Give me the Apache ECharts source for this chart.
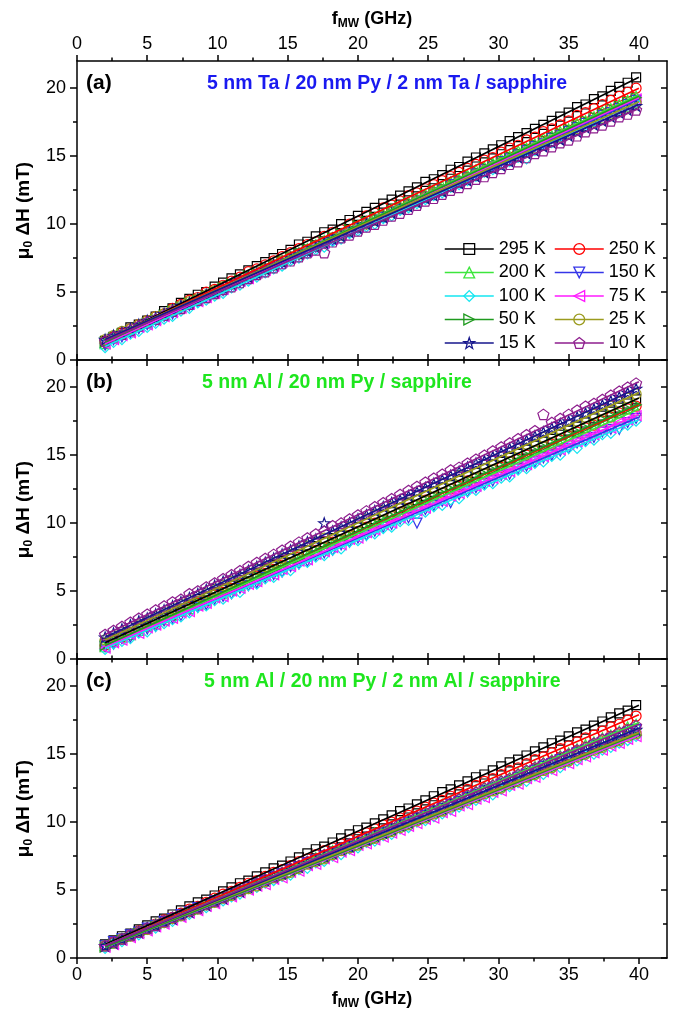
<!DOCTYPE html>
<html>
<head>
<meta charset="utf-8">
<script src="https://cdn.jsdelivr.net/npm/echarts@6/dist/echarts.min.js"></script>
<style>
  html, body { margin: 0; padding: 0; background: #fff; }
  #chart { width: 674px; height: 1014px; }
</style>
</head>
<body>
<div id="chart"></div>
<script>
// Microwave frequencies of the FMR linewidth sweep (GHz)
const freqGHz = [2,2.6,3.2,3.8,4.4,5,5.6,6.2,6.8,7.4,8,8.6,9.2,9.8,10.4,11,11.6,12.2,12.8,13.4,
  14,14.6,15.2,15.8,16.4,17,17.6,18.2,18.8,19.4,20,20.6,21.2,21.8,22.4,23,23.6,24.2,24.8,25.4,
  26,26.6,27.2,27.8,28.4,29,29.6,30.2,30.8,31.4,32,32.6,33.2,33.8,34.4,35,35.6,36.2,36.8,37.4,
  38,38.6,39.2,39.8];

const tempLabels = ['295 K','250 K','200 K','150 K','100 K','75 K','50 K','25 K','15 K','10 K'];

// (a) 5 nm Ta / 20 nm Py / 2 nm Ta / sapphire — linewidth mu0 dH (mT)
const a295 = [1.4,1.7,2.0,2.4,2.6,2.9,3.2,3.6,3.8,4.2,4.5,4.8,5.0,5.4,5.7,6.0,6.3,6.6,6.9,7.2,7.5,7.8,8.1,8.5,8.7,9.1,9.4,9.6,10.0,10.3,10.6,10.9,11.2,11.5,11.8,12.1,12.4,12.7,13.1,13.3,13.6,14.0,14.2,14.6,14.9,15.2,15.5,15.8,16.1,16.4,16.7,17.0,17.3,17.6,17.9,18.2,18.6,18.8,19.2,19.4,19.8,20.1,20.4,20.8];
const a250 = [1.3,1.7,2.0,2.3,2.6,2.9,3.2,3.4,3.8,4.1,4.4,4.6,5.0,5.2,5.5,5.8,6.1,6.5,6.7,7.0,7.3,7.6,7.9,8.2,8.5,8.7,9.1,9.4,9.6,10.0,10.2,10.6,10.8,11.2,11.4,11.7,12.1,12.3,12.6,12.9,13.2,13.5,13.8,14.1,14.4,14.7,14.9,15.3,15.6,15.8,16.2,16.4,16.8,17.0,17.3,17.6,18.0,18.2,18.5,18.8,19.1,19.4,19.7,20.0];
const a200 = [1.2,1.6,1.9,2.1,2.5,2.7,3.0,3.3,3.6,3.9,4.2,4.4,4.8,5.0,5.3,5.6,5.9,6.2,6.4,6.8,7.0,7.3,7.6,7.9,8.2,8.5,8.8,9.0,9.3,9.6,9.9,10.2,10.5,10.7,11.1,11.3,11.6,11.9,12.2,12.5,12.8,13.1,13.3,13.6,14.0,14.2,14.5,14.8,15.0,15.4,15.6,15.9,16.3,16.5,16.8,17.0,17.4,17.6,17.9,18.3,18.5,18.8,19.1,19.4];
const a150 = [1.1,1.5,1.7,2.0,2.3,2.6,2.9,3.2,3.4,3.8,4.0,4.3,4.6,4.9,5.1,5.5,5.7,6.0,6.3,6.6,6.9,7.1,7.5,7.7,8.0,8.3,8.6,8.8,9.2,9.4,9.7,10.0,10.3,10.5,10.9,11.1,11.4,11.7,12.0,12.3,12.5,12.9,13.1,13.4,13.7,14.0,14.2,14.6,14.8,15.1,15.4,15.7,15.9,16.3,16.5,16.8,17.1,17.4,17.6,18.0,18.2,18.5,18.8,19.1];
const a100 = [0.9,1.3,1.5,1.9,2.1,2.4,2.7,3.0,3.2,3.6,3.8,4.2,4.4,4.7,4.9,5.3,5.5,5.8,6.1,6.4,6.7,6.9,7.3,7.5,7.8,8.1,8.3,8.7,8.9,9.3,9.5,9.8,10.0,10.4,10.6,11.0,11.2,11.5,11.8,12.1,12.3,12.7,12.9,13.2,13.5,13.8,14.0,14.4,14.6,14.9,14.8,15.4,15.8,16.0,16.4,16.6,16.9,17.2,17.5,17.7,18.0,18.3,18.6,18.9];
const a75  = [1.2,1.5,1.8,2.0,2.4,2.6,2.9,3.2,3.5,3.8,4.1,4.3,4.6,4.9,5.2,5.5,5.8,6.0,6.4,6.6,6.9,7.2,7.5,7.8,8.0,8.4,8.6,8.9,9.2,9.5,9.8,10.1,10.3,10.6,10.9,11.2,11.5,11.8,12.1,12.3,12.6,12.9,13.2,13.5,13.8,14.1,14.3,14.6,14.9,15.2,15.5,15.8,16.1,16.3,16.6,16.9,17.2,17.5,17.8,18.1,18.4,18.6,18.9,19.2];
const a50  = [1.3,1.6,1.9,2.1,2.4,2.7,3.0,3.3,3.6,3.9,4.2,4.4,4.7,5.0,5.3,5.6,5.9,6.2,6.4,6.7,7.0,7.3,7.6,7.9,8.2,8.4,8.7,9.0,9.3,9.6,9.9,10.2,10.5,10.7,11.0,11.3,11.6,11.9,12.2,12.5,12.7,13.0,13.3,13.6,13.9,14.2,14.5,14.7,15.0,15.3,15.6,15.9,16.2,16.5,16.7,17.0,17.3,17.6,17.9,18.2,18.5,18.7,19.0,19.3];
const a25  = [1.5,1.8,2.1,2.3,2.6,2.9,3.2,3.4,3.7,4.0,4.3,4.5,4.8,5.1,5.4,5.6,5.9,6.2,6.5,6.7,7.0,7.3,7.6,7.8,8.1,8.4,8.7,9.0,9.2,9.5,9.8,10.0,10.3,10.6,10.9,11.2,11.4,11.7,12.0,12.3,12.5,12.8,13.1,13.4,13.6,13.9,14.2,14.5,14.7,15.0,15.3,15.6,15.8,16.1,16.4,16.7,17.0,17.2,17.5,17.8,18.1,18.3,18.6,18.9];
const a15  = [1.5,1.8,2.0,2.3,2.6,2.9,3.1,3.4,3.7,4.0,4.2,4.5,4.8,5.0,5.3,5.6,5.9,6.1,6.4,6.7,7.0,7.2,7.5,7.8,8.0,8.3,8.6,8.9,9.1,9.4,9.7,10.0,10.2,10.5,10.8,11.1,11.3,11.6,11.9,12.1,12.4,12.7,13.0,13.2,13.5,13.8,14.1,14.3,14.6,14.9,15.2,15.4,15.7,16.0,16.2,16.5,16.8,17.1,17.3,17.6,17.9,18.2,18.4,18.7];
const a10  = [1.4,1.7,1.9,2.2,2.5,2.8,3.0,3.3,3.6,3.8,4.1,4.4,4.6,4.9,5.2,5.4,5.7,6.0,6.3,6.5,6.8,7.1,7.3,7.6,7.9,8.1,7.9,8.7,9.0,9.2,9.5,9.8,10.0,10.3,10.6,10.8,11.1,11.4,11.7,11.9,12.2,12.5,12.7,13.0,13.3,13.5,13.8,14.1,14.4,14.6,14.9,15.2,15.4,15.7,16.0,16.2,16.5,16.8,17.1,17.3,17.6,17.9,18.1,18.4];

// (b) 5 nm Al / 20 nm Py / sapphire
const b295 = [1.2,1.5,1.8,2.0,2.4,2.6,2.9,3.2,3.5,3.7,4.0,4.4,4.6,4.9,5.2,5.4,5.8,6.0,6.3,6.6,6.9,7.2,7.4,7.7,8.0,8.3,8.6,8.9,9.1,9.4,9.7,10.0,10.3,10.6,10.8,11.1,11.5,11.7,12.0,12.3,12.6,12.8,13.1,13.5,13.7,14.0,14.3,14.5,14.8,15.1,15.4,15.7,16.0,16.2,16.5,16.8,17.1,17.4,17.7,17.9,18.2,18.5,18.8,19.1];
const b250 = [1.0,1.3,1.6,1.8,2.2,2.4,2.7,3.0,3.2,3.5,3.8,4.1,4.3,4.7,4.9,5.2,5.5,5.7,6.1,6.3,6.6,6.9,7.1,7.5,7.7,8.0,8.2,8.6,8.8,9.1,9.4,9.7,10.0,10.2,10.5,10.8,11.1,11.3,11.7,11.9,12.2,12.5,12.7,13.1,13.3,13.6,13.9,14.1,14.5,14.7,15.0,15.3,15.6,15.8,16.1,16.4,16.7,17.0,17.2,17.5,17.8,18.1,18.4,18.6];
const b200 = [0.9,1.3,1.6,1.8,2.1,2.4,2.6,2.9,3.2,3.5,3.7,4.0,4.3,4.6,4.8,5.1,5.4,5.7,5.9,6.2,6.5,6.8,7.0,7.4,7.6,7.8,8.1,8.5,8.7,9.0,9.2,9.5,9.8,10.1,10.3,10.6,10.9,11.2,11.4,11.7,12.0,12.3,12.5,12.8,13.1,13.4,13.6,13.9,14.2,14.5,14.7,15.0,15.3,15.6,15.8,16.1,16.4,16.7,16.9,17.2,17.5,17.8,18.0,18.3];
const b150 = [0.9,1.1,1.5,1.6,2.0,2.2,2.4,2.8,3.0,3.2,3.6,3.8,4.0,4.4,4.6,4.8,5.2,5.4,5.6,6.0,6.2,6.4,6.8,7.0,7.2,7.6,7.8,8.0,8.4,8.6,8.9,9.1,9.4,9.7,9.9,10.3,10.4,10.0,11.0,11.3,11.6,11.5,12.1,12.3,12.6,12.9,13.1,13.5,13.6,14.0,14.2,14.5,14.8,15.0,15.3,15.5,15.9,16.1,16.3,16.7,16.9,16.9,17.4,17.7];
const b100 = [0.7,1.1,1.3,1.5,1.9,2.0,2.4,2.6,2.9,3.1,3.4,3.8,3.9,4.3,4.4,4.8,4.9,5.4,5.5,5.9,6.0,6.4,6.5,7.0,7.1,7.5,7.6,8.0,8.1,8.6,8.7,9.1,9.2,9.6,9.7,10.1,10.2,10.7,10.8,11.2,11.3,11.7,11.8,12.3,12.4,12.8,12.9,13.3,13.4,13.9,14.0,14.4,14.5,14.9,15.0,15.5,15.5,16.0,16.1,16.5,16.6,17.0,17.2,17.5];
const b75  = [0.8,1.2,1.4,1.8,1.9,2.3,2.5,2.8,3.0,3.4,3.5,3.9,4.1,4.5,4.6,5.0,5.2,5.5,5.7,6.1,6.2,6.6,6.8,7.2,7.3,7.7,7.9,8.2,8.4,8.8,8.9,9.3,9.5,9.9,10.0,10.4,10.6,10.9,11.1,11.5,11.6,12.0,12.2,12.6,12.7,13.1,13.3,13.6,13.8,14.2,14.3,14.7,14.9,15.3,15.4,15.8,16.0,16.3,16.5,16.9,17.0,17.4,17.6,17.9];
const b50  = [1.0,1.3,1.6,1.8,2.1,2.4,2.7,3.0,3.2,3.5,3.8,4.1,4.4,4.6,4.9,5.2,5.5,5.8,6.1,6.3,6.6,6.9,7.2,7.4,7.8,8.0,8.3,8.6,8.9,9.1,9.4,9.7,10.0,10.3,10.5,10.8,11.1,11.4,11.7,12.0,12.2,12.5,12.8,13.1,13.4,13.6,13.9,14.2,14.5,14.8,15.0,15.3,15.6,15.9,16.2,16.5,16.7,17.0,17.3,17.6,17.9,18.1,18.4,18.7];
const b25  = [1.4,1.7,2.0,2.3,2.5,2.8,3.1,3.4,3.7,4.0,4.3,4.6,4.8,5.1,5.4,5.7,6.0,6.3,6.6,6.8,7.1,7.4,7.7,8.0,8.3,8.6,8.9,9.1,9.4,9.7,10.0,10.3,10.6,10.9,11.2,11.4,11.7,12.0,12.3,12.6,12.9,13.2,13.5,13.7,14.0,14.3,14.6,14.9,15.2,15.5,15.8,16.0,16.3,16.6,16.9,17.2,17.5,17.8,18.0,18.3,18.6,18.9,19.2,19.5];
const b15  = [1.6,1.9,2.2,2.5,2.8,3.0,3.3,3.6,3.9,4.2,4.5,4.8,5.1,5.4,5.7,6.0,6.2,6.5,6.8,7.1,7.4,7.7,8.0,8.3,8.6,8.8,10.0,9.4,9.7,10.0,10.3,10.6,10.9,11.2,11.5,11.7,12.0,12.3,12.6,12.9,13.2,13.5,13.8,14.1,14.4,14.6,14.9,15.2,15.5,15.8,16.1,16.4,16.7,17.0,17.3,17.5,17.8,18.1,18.4,18.7,19.0,19.3,19.6,19.9];
const b10  = [1.8,2.1,2.4,2.7,3.0,3.3,3.6,3.9,4.2,4.4,4.8,5.0,5.3,5.6,5.9,6.2,6.5,6.8,7.1,7.4,7.7,8.0,8.3,8.6,8.9,9.2,9.4,9.8,10.0,10.3,10.6,10.9,11.2,11.5,11.8,12.1,12.4,12.7,13.0,13.3,13.6,13.9,14.1,14.4,14.7,15.0,15.3,15.6,15.9,16.2,16.5,16.8,18.0,17.4,17.7,18.0,18.3,18.6,18.8,19.1,19.4,19.7,20.0,20.3];

// (c) 5 nm Al / 20 nm Py / 2 nm Al / sapphire
const c295 = [1.0,1.3,1.6,1.8,2.1,2.4,2.7,2.9,3.2,3.5,3.8,4.1,4.3,4.6,4.9,5.2,5.5,5.7,6.0,6.3,6.6,6.8,7.1,7.4,7.7,8.0,8.2,8.5,8.8,9.1,9.4,9.6,9.9,10.2,10.5,10.8,11.0,11.3,11.6,11.9,12.2,12.4,12.7,13.0,13.3,13.5,13.8,14.1,14.4,14.6,14.9,15.2,15.5,15.8,16.0,16.3,16.6,16.8,17.1,17.4,17.7,18.0,18.2,18.6];
const c250 = [0.9,1.2,1.4,1.7,2.0,2.2,2.5,2.8,3.0,3.3,3.6,3.8,4.1,4.4,4.7,4.9,5.2,5.5,5.7,6.0,6.3,6.5,6.8,7.1,7.3,7.6,7.9,8.1,8.4,8.7,8.9,9.2,9.5,9.8,10.0,10.3,10.5,10.8,11.1,11.4,11.6,11.9,12.2,12.4,12.7,13.0,13.2,13.5,13.8,14.0,14.3,14.6,14.8,15.1,15.4,15.6,15.9,16.2,16.4,16.7,17.0,17.2,17.5,17.8];
const c200 = [0.9,1.1,1.4,1.7,1.9,2.2,2.5,2.7,3.0,3.2,3.5,3.7,4.0,4.3,4.5,4.8,5.0,5.3,5.6,5.8,6.1,6.3,6.6,6.8,7.1,7.4,7.6,7.9,8.1,8.4,8.6,8.9,9.2,9.4,9.7,10.0,10.2,10.5,10.7,11.0,11.3,11.5,11.8,12.0,12.3,12.6,12.8,13.1,13.3,13.6,13.8,14.1,14.4,14.6,14.9,15.1,15.4,15.7,15.9,16.2,16.4,16.7,17.0,17.2];
const c150 = [0.9,1.2,1.4,1.7,1.9,2.2,2.4,2.7,2.9,3.2,3.4,3.7,3.9,4.2,4.4,4.7,4.9,5.2,5.5,5.7,6.0,6.2,6.5,6.7,7.0,7.2,7.5,7.7,8.0,8.2,8.5,8.7,9.0,9.2,9.5,9.8,10.0,10.3,10.5,10.8,11.0,11.3,11.5,11.8,12.0,12.3,12.5,12.8,13.0,13.3,13.5,13.8,14.1,14.3,14.6,14.8,15.1,15.3,15.6,15.8,16.1,16.3,16.6,16.8];
const c100 = [0.7,1.1,1.2,1.6,1.7,2.1,2.2,2.6,2.7,3.1,3.2,3.6,3.7,4.1,4.2,4.5,4.7,5.1,5.2,5.5,5.7,6.0,6.1,6.5,6.6,7.0,7.1,7.5,7.6,8.0,8.1,8.5,8.6,9.0,9.1,9.5,9.6,10.0,10.1,10.4,10.6,10.9,11.1,11.4,11.6,11.9,12.0,12.4,12.6,12.9,13.0,13.4,13.5,13.9,14.0,14.4,14.5,14.9,15.0,15.3,15.5,15.8,16.0,16.3];
const c75  = [0.8,1.0,1.3,1.5,1.8,2.0,2.3,2.5,2.8,3.0,3.3,3.5,3.8,4.0,4.3,4.5,4.8,5.0,5.3,5.4,5.8,5.9,6.3,6.4,6.8,6.9,7.3,7.4,7.8,7.9,8.3,8.4,8.7,8.9,9.2,9.4,9.7,9.9,10.2,10.3,10.7,10.8,11.2,11.3,11.7,11.8,12.2,12.3,12.7,12.8,13.2,13.3,13.7,13.8,14.2,14.3,14.6,14.8,15.1,15.3,15.6,15.8,16.1,16.3];
const c50  = [0.8,1.0,1.3,1.5,1.8,2.0,2.3,2.5,2.8,3.0,3.3,3.5,3.8,4.0,4.3,4.5,4.8,5.0,5.3,5.5,5.8,6.0,6.2,6.5,6.8,7.0,7.2,7.5,7.8,8.0,8.2,8.5,8.7,9.0,9.2,9.5,9.7,10.0,10.2,10.5,10.7,11.0,11.2,11.5,11.7,12.0,12.2,12.4,12.7,12.9,13.2,13.4,13.7,13.9,14.2,14.4,14.7,14.9,15.2,15.4,15.7,15.9,16.2,16.4];
const c25  = [0.9,1.1,1.4,1.6,1.9,2.1,2.4,2.6,2.9,3.1,3.4,3.6,3.9,4.1,4.4,4.6,4.9,5.1,5.3,5.6,5.9,6.1,6.3,6.6,6.9,7.1,7.3,7.6,7.9,8.1,8.3,8.6,8.8,9.1,9.3,9.6,9.8,10.1,10.3,10.6,10.8,11.1,11.3,11.6,11.8,12.1,12.3,12.5,12.8,13.0,13.3,13.5,13.8,14.0,14.3,14.5,14.8,15.0,15.3,15.5,15.8,16.0,16.3,16.5];
const c15  = [0.9,1.1,1.4,1.7,1.9,2.2,2.4,2.7,2.9,3.2,3.4,3.7,3.9,4.2,4.4,4.7,4.9,5.2,5.4,5.7,6.0,6.2,6.5,6.7,7.0,7.2,7.5,7.7,8.0,8.2,8.5,8.7,9.0,9.2,9.5,9.8,10.0,10.3,10.5,10.8,11.0,11.3,11.5,11.8,12.0,12.3,12.5,12.8,13.0,13.3,13.5,13.8,14.1,14.3,14.6,14.8,15.1,15.3,15.6,15.8,16.1,16.3,16.6,16.8];
const c10  = [0.9,1.2,1.4,1.7,1.9,2.2,2.4,2.7,3.0,3.2,3.5,3.7,4.0,4.2,4.5,4.8,5.0,5.3,5.5,5.8,6.0,6.3,6.6,6.8,7.1,7.3,7.6,7.8,8.1,8.4,8.6,8.9,9.1,9.4,9.6,9.9,10.2,10.4,10.7,10.9,11.2,11.4,11.7,12.0,12.2,12.5,12.7,13.0,13.2,13.5,13.8,14.0,14.3,14.5,14.8,15.0,15.3,15.5,15.8,16.1,16.3,16.6,16.8,17.1];

// Linear fits: linewidth at the ends of the fitted range
const fitFreq = [2, 40];
const fitA_lo = [1.4,1.4,1.3,1.2,1.0,1.2,1.3,1.5,1.5,1.4];
const fitA_hi = [20.8,20.0,19.5,19.2,19.0,19.3,19.4,19.0,18.8,18.5];
const fitB_lo = [1.2,1.0,1.0,0.9,0.8,0.9,1.0,1.4,1.6,1.8];
const fitB_hi = [19.2,18.7,18.4,17.8,17.6,18.0,18.8,19.6,20.0,20.4];
const fitC_lo = [1.0,0.9,0.9,0.9,0.8,0.8,0.8,0.9,0.9,0.9];
const fitC_hi = [18.6,17.9,17.3,16.9,16.4,16.4,16.5,16.6,16.9,17.2];

// Panel captions
const panelTags = ['(a)', '(b)', '(c)'];
const stackNames = [
  '5 nm Ta / 20 nm Py / 2 nm Ta / sapphire',
  '5 nm Al / 20 nm Py / sapphire',
  '5 nm Al / 20 nm Py / 2 nm Al / sapphire'
];

// Axis tick positions
const xMajor = [0,5,10,15,20,25,30,35,40];
const xMinor = [2.5,7.5,12.5,17.5,22.5,27.5,32.5,37.5];
const yMajor = [0,5,10,15,20];
const yMinor = [2.5,7.5,12.5,17.5];

// ---------- styling ----------
const FONT = "'Liberation Sans', Arial, Helvetica, sans-serif";
const colors = ['#000000','#ff0000','#3ce63c','#3535e8','#14e6f0','#ff1aff','#1f9a1f','#9b9b1e','#16168c','#8e1e8e'];
const STAR = 'path://M0,-10L2.35,-3.24L9.51,-3.09L3.8,1.24L5.88,8.09L0,4L-5.88,8.09L-3.8,1.24L-9.51,-3.09L-2.35,-3.24Z';
const PENTAGON = 'path://M0,-10L9.51,-3.09L5.88,8.09L-5.88,8.09L-9.51,-3.09Z';
const symbols = ['rect','circle','triangle','triangle','diamond','triangle','triangle','circle',STAR,PENTAGON];
const symbolRot = [0,0,0,180,0,90,-90,0,0,0];
const symbolSz = [9,10,10,10,10,10,10,10,11,11];

const panelData = [
  [a295,a250,a200,a150,a100,a75,a50,a25,a15,a10],
  [b295,b250,b200,b150,b100,b75,b50,b25,b15,b10],
  [c295,c250,c200,c150,c100,c75,c50,c25,c15,c10]
];
const panelFitLo = [fitA_lo, fitB_lo, fitC_lo];
const panelFitHi = [fitA_hi, fitB_hi, fitC_hi];
const stackColors = ['#1a1af0', '#1ee61e', '#1ee61e'];
const stackLeft = [207, 202, 204];

const GRID_LEFT = 77, GRID_RIGHT = 7, GRID_TOP = 61, GRID_H = 299;
const grids = [0,1,2].map(p => ({
  left: GRID_LEFT, right: GRID_RIGHT, top: GRID_TOP + p * GRID_H, height: GRID_H
}));

const black = '#000';
const lineW = 1.5;
const nameRich = {
  b: { fontFamily: FONT, fontWeight: 'bold', fontSize: 18, color: black },
  s: { fontFamily: FONT, fontWeight: 'bold', fontSize: 12, color: black, padding: [10, 0, 0, 0] }
};
const yNameRich = {
  b: { fontFamily: FONT, fontWeight: 'bold', fontSize: 19, color: black },
  s: { fontFamily: FONT, fontWeight: 'bold', fontSize: 12, color: black, padding: [10, 0, 0, 0] }
};

function makeAxis(dim, grid, pos, ticks, len, inside, showLine, labels, extra) {
  const isX = dim === 'x';
  return Object.assign({
    type: 'value',
    gridIndex: grid,
    position: pos,
    min: 0,
    max: isX ? 42 : 22,
    splitLine: { show: false },
    axisLine: { show: showLine, onZero: false, lineStyle: { color: black, width: lineW } },
    axisTick: { show: true, inside: inside, length: len, customValues: ticks,
      lineStyle: { color: black, width: lineW } },
    axisLabel: { show: !!labels, customValues: ticks, color: black, fontFamily: FONT,
      fontSize: 18, margin: isX ? 8 : 11 },
    z: 10
  }, extra || {});
}

const xAxes = [], yAxes = [];
for (let p = 0; p < 3; p++) {
  const bottomName = p === 2 ? {
    name: '{b|f}{s|MW}{b| (GHz)}', nameLocation: 'middle', nameGap: 30,
    nameTextStyle: { rich: nameRich }
  } : {};
  const topName = p === 0 ? {
    name: '{b|f}{s|MW}{b| (GHz)}', nameLocation: 'middle', nameGap: 31,
    nameTextStyle: { rich: nameRich }
  } : {};
  xAxes.push(makeAxis('x', p, 'bottom', xMajor, 6, false, true, p === 2, bottomName));
  xAxes.push(makeAxis('x', p, 'bottom', xMinor, 3.5, false, false, false));
  xAxes.push(makeAxis('x', p, 'top', xMajor, 6, false, true, p === 0, topName));
  xAxes.push(makeAxis('x', p, 'top', xMinor, 3.5, false, false, false));

  yAxes.push(makeAxis('y', p, 'left', yMajor, 7, false, true, true, {
    name: '{b|\u03bc}{s|0}{b| \u0394H (mT)}', nameLocation: 'middle', nameGap: 29,
    nameTextStyle: { rich: yNameRich }
  }));
  yAxes.push(makeAxis('y', p, 'left', yMinor, 4, false, false, false));
  yAxes.push(makeAxis('y', p, 'right', yMajor, 6, true, true, false));
  yAxes.push(makeAxis('y', p, 'right', yMinor, 4, true, false, false));
}

const series = [];
for (let p = 0; p < 3; p++) {
  // fitted lines first so the legend takes its line + symbol from them
  tempLabels.forEach((name, t) => {
    series.push({
      type: 'line', name: name, xAxisIndex: p * 4, yAxisIndex: p * 4,
      data: [[fitFreq[0], panelFitLo[p][t]], [fitFreq[1], panelFitHi[p][t]]],
      showSymbol: false, symbol: symbols[t], symbolRotate: symbolRot[t],
      symbolSize: symbolSz[t], symbolKeepAspect: true,
      lineStyle: { color: colors[t], width: 1.7 },
      itemStyle: { color: 'rgba(0,0,0,0)', borderColor: colors[t], borderWidth: 1.2 },
      silent: true, z: 3
    });
  });
  tempLabels.forEach((name, t) => {
    const vals = panelData[p][t];
    series.push({
      type: 'scatter', name: name, xAxisIndex: p * 4, yAxisIndex: p * 4,
      data: freqGHz.map((f, i) => [f, vals[i]]),
      symbol: symbols[t], symbolRotate: symbolRot[t], symbolSize: symbolSz[t],
      symbolKeepAspect: true,
      itemStyle: { color: 'rgba(0,0,0,0)', borderColor: colors[t], borderWidth: 1.2, opacity: 1 },
      silent: true, z: 2
    });
  });
}

function legendItems(idx) {
  return idx.map(t => ({
    name: tempLabels[t],
    itemStyle: { color: 'rgba(0,0,0,0)', borderColor: colors[t], borderWidth: 1.3 },
    lineStyle: { color: colors[t], width: 1.5 }
  }));
}
const legendBase = {
  orient: 'vertical', top: 239, padding: 0, itemWidth: 49, itemHeight: 13.5, itemGap: 3.5,
  selectedMode: false,
  textStyle: { fontFamily: FONT, fontSize: 18, color: black, lineHeight: 20 }
};

const graphics = [];
for (let p = 0; p < 3; p++) {
  const top = GRID_TOP + p * GRID_H;
  graphics.push({
    type: 'text', left: 86, top: top + 12, z: 20,
    style: { text: panelTags[p], font: 'bold 21px ' + FONT, fill: black }
  });
  graphics.push({
    type: 'text', left: stackLeft[p], top: top + 13, z: 20,
    style: { text: stackNames[p], font: 'bold 19.5px ' + FONT, fill: stackColors[p] }
  });
}

const chart = echarts.init(document.getElementById('chart'), null, { renderer: 'canvas' });
chart.setOption({
  animation: false,
  backgroundColor: '#fff',
  grid: grids,
  xAxis: xAxes,
  yAxis: yAxes,
  legend: [
    Object.assign({ left: 444, data: legendItems([0,2,4,6,8]) }, legendBase),
    Object.assign({ left: 554, data: legendItems([1,3,5,7,9]) }, legendBase)
  ],
  graphic: graphics,
  series: series
});
</script>
</body>
</html>
